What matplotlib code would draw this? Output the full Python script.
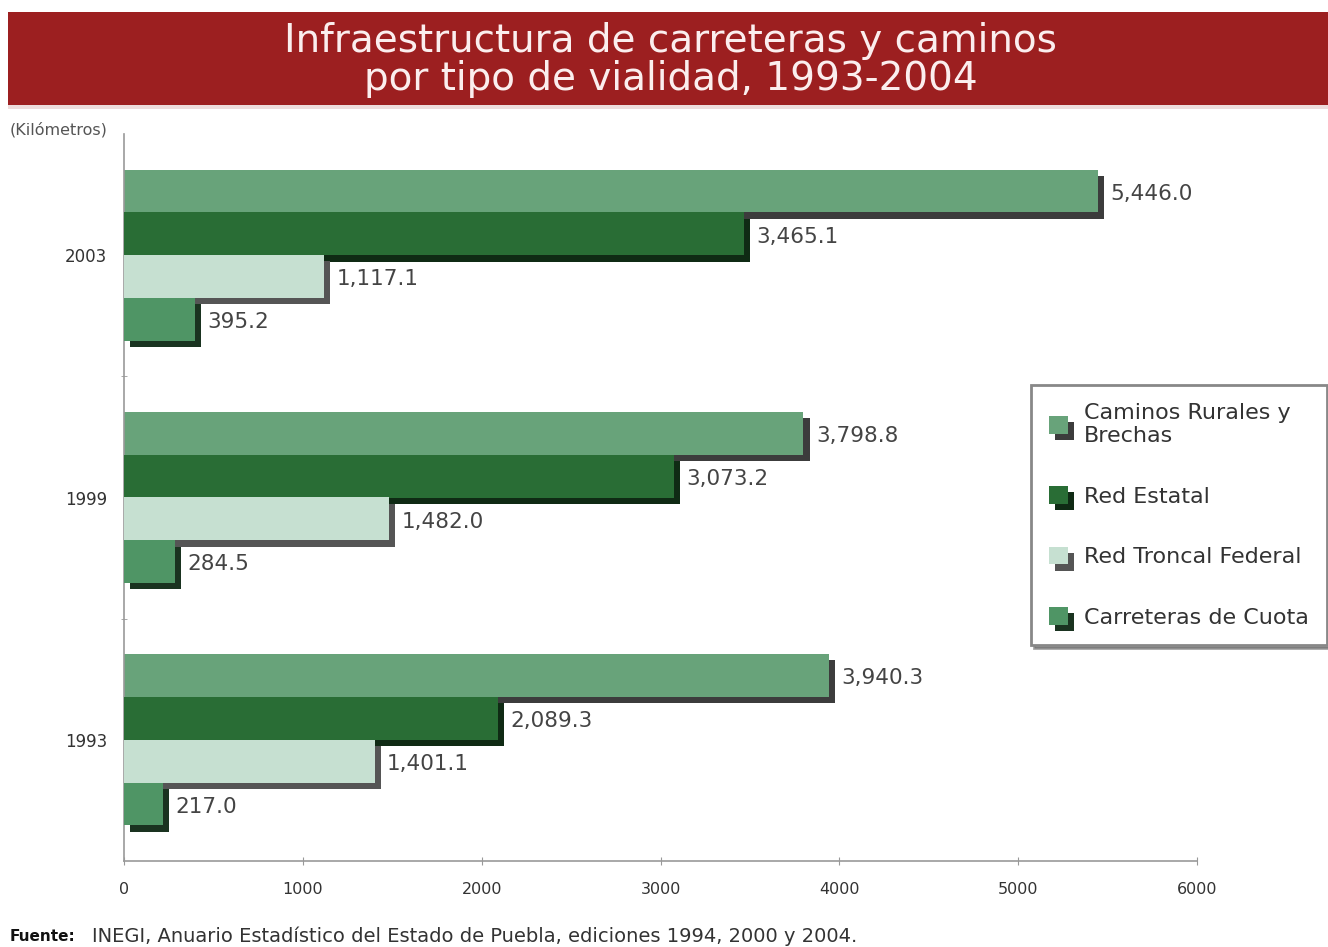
import numpy as np
import matplotlib.pyplot as plt
import matplotlib.patheffects as pe
from matplotlib.patches import Rectangle

# Datos (kilometros)
anios = ["1993", "1999", "2003"]
series = ["Caminos Rurales y\nBrechas", "Red Estatal", "Red Troncal Federal", "Carreteras de Cuota"]
caminos = [3940.3, 3798.8, 5446.0]
estatal = [2089.3, 3073.2, 3465.1]
troncal = [1401.1, 1482.0, 1117.1]
cuota = [217.0, 284.5, 395.2]
valores = [caminos, estatal, troncal, cuota]

colores = ["#68a37a", "#296d35", "#c6e0d1", "#4f9565"]
sombras = ["#3c3c3c", "#0f2a14", "#555555", "#1a3320"]

plt.rcParams['font.family'] = ['DejaVu Sans']

fig = plt.figure(figsize=(13.28, 9.47), dpi=100)
fig.patch.set_facecolor("white")

# banda del titulo
fig.patches.append(Rectangle((8/1328, 1-109/947), 1, 5/947, transform=fig.transFigure,
                             facecolor="#eddcdc", edgecolor="none"))
fig.patches.append(Rectangle((8/1328, 1-105/947), 1, 93/947, transform=fig.transFigure,
                             facecolor="#9c1f20", edgecolor="none"))
fig.text(0.505, 1-60/947, "Infraestructura de carreteras y caminos\npor tipo de vialidad, 1993-2004",
         ha="center", va="center", color="#fbeeee", fontsize=28, linespacing=1.02)
fig.text(10/1328, 1-130/947, "(Kilómetros)", fontsize=11.5, color="#555555", va="center")

ax = fig.add_axes([124/1328, 1-861/947, (1197-124)/1328, (861-134)/947])
y = np.arange(len(anios))
h = 0.177
offs = [0.265, 0.088, -0.088, -0.265]

for i in range(4):
    bars = ax.barh(y + offs[i], valores[i], height=h, color=colores[i], label=series[i],
                   zorder=2 + i, linewidth=0)
    for b in bars:
        b.set_path_effects([pe.SimplePatchShadow(offset=(4.5, -4.5), shadow_rgbFace=sombras[i], alpha=1.0),
                            pe.Normal()])
    for yy, v in zip(y + offs[i], valores[i]):
        ax.annotate(f"{v:,.1f}", (v, yy), xytext=(9, -2), textcoords="offset points",
                    ha="left", va="center", fontsize=15.5, color="#444444", zorder=10)

ax.set_xlim(0, 6000)
ax.set_ylim(-0.5, 2.5)
ax.set_xticks(np.arange(0, 6001, 1000))
ax.set_yticks(y)
ax.set_yticklabels(anios)
ax.set_yticks([0.5, 1.5], minor=True)
ax.tick_params(axis="y", which="major", length=0, pad=12, labelsize=12, labelcolor="#333333")
ax.tick_params(axis="y", which="minor", length=4, direction="inout", color="#999999")
ax.tick_params(axis="x", which="major", length=6, direction="inout", color="#999999",
               labelsize=11.5, labelcolor="#333333", pad=12)
for s in ["top", "right"]:
    ax.spines[s].set_visible(False)
for s in ["left", "bottom"]:
    ax.spines[s].set_color("#999999")
    ax.spines[s].set_linewidth(1.2)

leg = fig.legend(loc="upper left", bbox_to_anchor=(1031/1328, 1-385/947), borderaxespad=0,
                 fontsize=16, handlelength=0.85, handleheight=0.85, labelspacing=1.8,
                 borderpad=0.8, handletextpad=0.75, frameon=True, fancybox=False, shadow=True,
                 labelcolor="#333333")
leg.get_frame().set_edgecolor("#888888")
leg.get_frame().set_linewidth(2)

fig.text(10/1328, 1-936/947, "Fuente:", fontsize=11, fontweight="bold", color="#111111", va="center")
fig.text(92/1328, 1-936/947, "INEGI, Anuario Estadístico del Estado de Puebla, ediciones 1994, 2000 y 2004.",
         fontsize=14, color="#333333", va="center")

fig.savefig("out.png", dpi=100)
